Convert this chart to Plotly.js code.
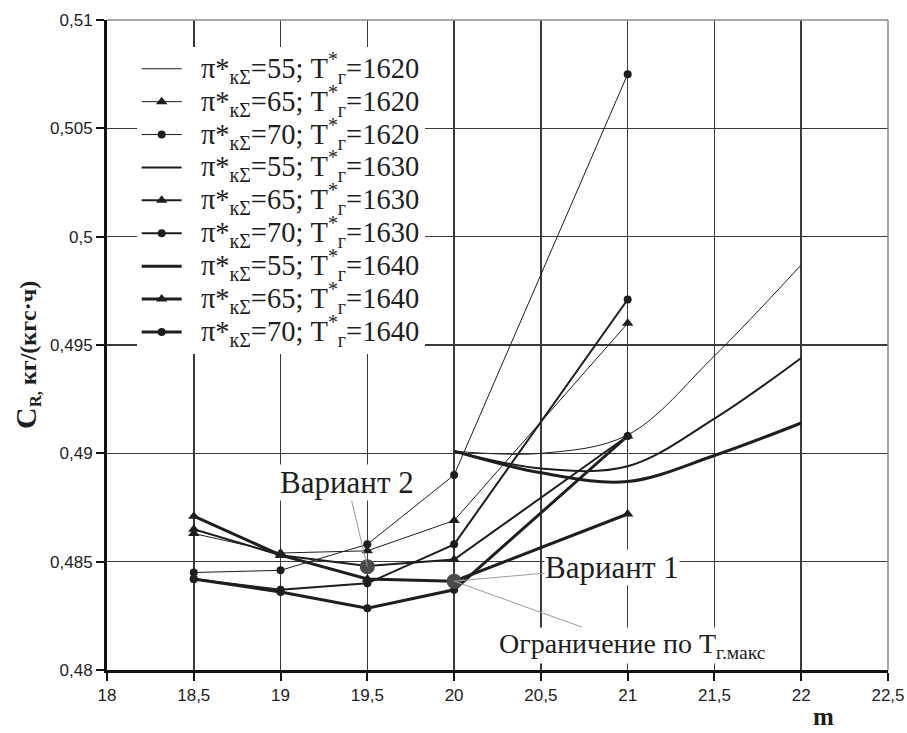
<!DOCTYPE html>
<html>
<head>
<meta charset="utf-8">
<script src="https://cdn.plot.ly/plotly-3.0.1.min.js"></script>
<style>html,body{margin:0;padding:0;background:#fff}#chart{width:907px;height:733px}</style>
</head>
<body>
<div id="chart"></div>
<script>
// ---- data ----
var m55 = [20, 20.5, 21, 21.5, 22];
var m6570 = [18.5, 19, 19.5, 20, 21];

var cr55_1620 = [0.4901, 0.4900, 0.49085, 0.4945, 0.4987];
var cr65_1620 = [0.4863, 0.4854, 0.4855, 0.4869, 0.4960];
var cr70_1620 = [0.4845, 0.4846, 0.4858, 0.4890, 0.5075];
var cr55_1630 = [0.4901, 0.4893, 0.4894, 0.4916, 0.4944];
var cr65_1630 = [0.4865, 0.4853, 0.4848, 0.4851, 0.4908];
var cr70_1630 = [0.4842, 0.4837, 0.4840, 0.4858, 0.4971];
var cr55_1640 = [0.4901, 0.4891, 0.4887, 0.4899, 0.4914];
var cr65_1640 = [0.4871, 0.4853, 0.4842, 0.4841, 0.4872];
var cr70_1640 = [0.4842, 0.4836, 0.48285, 0.4837, 0.4908];

var seriesNames = [
  "π*<sub>кΣ</sub>=55; T<sup>*</sup><sub>г</sub>=1620",
  "π*<sub>кΣ</sub>=65; T<sup>*</sup><sub>г</sub>=1620",
  "π*<sub>кΣ</sub>=70; T<sup>*</sup><sub>г</sub>=1620",
  "π*<sub>кΣ</sub>=55; T<sup>*</sup><sub>г</sub>=1630",
  "π*<sub>кΣ</sub>=65; T<sup>*</sup><sub>г</sub>=1630",
  "π*<sub>кΣ</sub>=70; T<sup>*</sup><sub>г</sub>=1630",
  "π*<sub>кΣ</sub>=55; T<sup>*</sup><sub>г</sub>=1640",
  "π*<sub>кΣ</sub>=65; T<sup>*</sup><sub>г</sub>=1640",
  "π*<sub>кΣ</sub>=70; T<sup>*</sup><sub>г</sub>=1640"
];

var variantM = [20, 19.5];
var variantCR = [0.4841, 0.48477];
var variantLabels = ["Вариант 1", "Вариант 2"];
var limitLabel = "Ограничение по T<sub>г.макс</sub>";

var xTickVals = [18, 18.5, 19, 19.5, 20, 20.5, 21, 21.5, 22, 22.5];
var xTickText = ["18", "18,5", "19", "19,5", "20", "20,5", "21", "21,5", "22", "22,5"];
var yTickVals = [0.48, 0.485, 0.49, 0.495, 0.5, 0.505, 0.51];
var yTickText = ["0,48", "0,485", "0,49", "0,495", "0,5", "0,505", "0,51"];

// ---- traces ----
var ink = "#1e1e1e";
function legendText(s) {
  return "<span style='font-size:28.5px'>\u00a0\u00a0" + s + "</span>";
}
function tr(x, y, name, width, symbol, spline) {
  var t = {
    x: x, y: y, name: legendText(name), type: "scatter",
    mode: symbol ? "lines+markers" : "lines",
    line: {color: ink, width: width, shape: spline ? "spline" : "linear"},
    hoverinfo: "skip"
  };
  if (symbol) t.marker = {symbol: symbol, size: symbol === "circle" ? 8 : 10, color: ink};
  return t;
}
var data = [
  tr(m55, cr55_1620, seriesNames[0], 1, null, true),
  tr(m6570, cr65_1620, seriesNames[1], 1, "triangle-up"),
  tr(m6570, cr70_1620, seriesNames[2], 1, "circle"),
  tr(m55, cr55_1630, seriesNames[3], 2, null, true),
  tr(m6570, cr65_1630, seriesNames[4], 2, "triangle-up"),
  tr(m6570, cr70_1630, seriesNames[5], 2, "circle"),
  tr(m55, cr55_1640, seriesNames[6], 3, null, true),
  tr(m6570, cr65_1640, seriesNames[7], 3, "triangle-up"),
  tr(m6570, cr70_1640, seriesNames[8], 3, "circle"),
  {x: variantM, y: variantCR, type: "scatter", mode: "markers", showlegend: false,
   marker: {symbol: "circle", size: 15, color: "#4a4a4a"}, hoverinfo: "skip"}
];

var serif = "Liberation Serif, Times New Roman, serif";
var annFont = {family: serif, size: 31, color: "#1e1e1e"};
var layout = {
  width: 907, height: 733,
  margin: {l: 107, r: 19, t: 20, b: 63},
  paper_bgcolor: "#fff", plot_bgcolor: "#fff",
  showlegend: true,
  legend: {
    x: 0.038, y: 0.958, xanchor: "left", yanchor: "top",
    bgcolor: "#fff", borderwidth: 0, itemwidth: 40,
    font: {family: serif, size: 23, color: "#1e1e1e"},
    tracegroupgap: 0
  },
  xaxis: {
    range: [18, 22.5], tickvals: xTickVals, ticktext: xTickText,
    showgrid: true, gridcolor: "#3a3a3a", gridwidth: 1.6,
    showline: true, linecolor: "#111", linewidth: 3,
    ticks: "outside", ticklen: 8, tickwidth: 2, tickcolor: "#111",
    zeroline: false, fixedrange: true,
    tickfont: {family: "Liberation Sans, Arial, sans-serif", size: 17, color: "#222"}
  },
  yaxis: {
    range: [0.48, 0.51], tickvals: yTickVals, ticktext: yTickText,
    showgrid: true, gridcolor: "#3a3a3a", gridwidth: 1.6,
    showline: true, linecolor: "#111", linewidth: 3,
    ticks: "outside", ticklen: 8, tickwidth: 2, tickcolor: "#111",
    zeroline: false, fixedrange: true,
    tickfont: {family: "Liberation Sans, Arial, sans-serif", size: 17, color: "#222"}
  },
  shapes: [
    {type: "line", xref: "paper", yref: "paper", x0: 0, x1: 1, y0: 1, y1: 1, line: {color: "#8a8a8a", width: 1.5}},
    {type: "line", xref: "paper", yref: "paper", x0: 1, x1: 1, y0: 0, y1: 1, line: {color: "#8a8a8a", width: 1.5}}
  ],
  annotations: [
    {x: variantM[1], y: variantCR[1], xref: "x", yref: "y", text: variantLabels[1],
     showarrow: true, arrowhead: 0, arrowwidth: 1, arrowcolor: "#999", ax: -20, ay: -84,
     bgcolor: "#fff", font: annFont, borderpad: 0},
    {x: variantM[0], y: variantCR[0], xref: "x", yref: "y", text: variantLabels[0],
     showarrow: true, arrowhead: 0, arrowwidth: 1, arrowcolor: "#999", ax: 158, ay: -14,
     bgcolor: "#fff", font: annFont, borderpad: 0},
    {x: variantM[0], y: variantCR[0], xref: "x", yref: "y", text: limitLabel,
     showarrow: true, arrowhead: 0, arrowwidth: 1, arrowcolor: "#999", ax: 178, ay: 64,
     bgcolor: "#fff", font: {family: serif, size: 28, color: "#1e1e1e"}, borderpad: 0},
    {xref: "paper", yref: "paper", x: -0.1024, y: 0.4846, textangle: -90, showarrow: false,
     text: "<b><span style='font-size:30px'>C</span><sub>R,</sub> кг/(кгс·ч)</b>",
     font: {family: serif, size: 24, color: "#1e1e1e"}, xanchor: "center", yanchor: "middle"},
    {xref: "paper", yref: "paper", x: 0.9168, y: -0.0708, showarrow: false,
     text: "<b>m</b>", font: {family: serif, size: 25, color: "#1e1e1e"},
     xanchor: "center", yanchor: "middle"}
  ]
};

Plotly.newPlot("chart", data, layout, {staticPlot: true, displayModeBar: false});
</script>
</body>
</html>
